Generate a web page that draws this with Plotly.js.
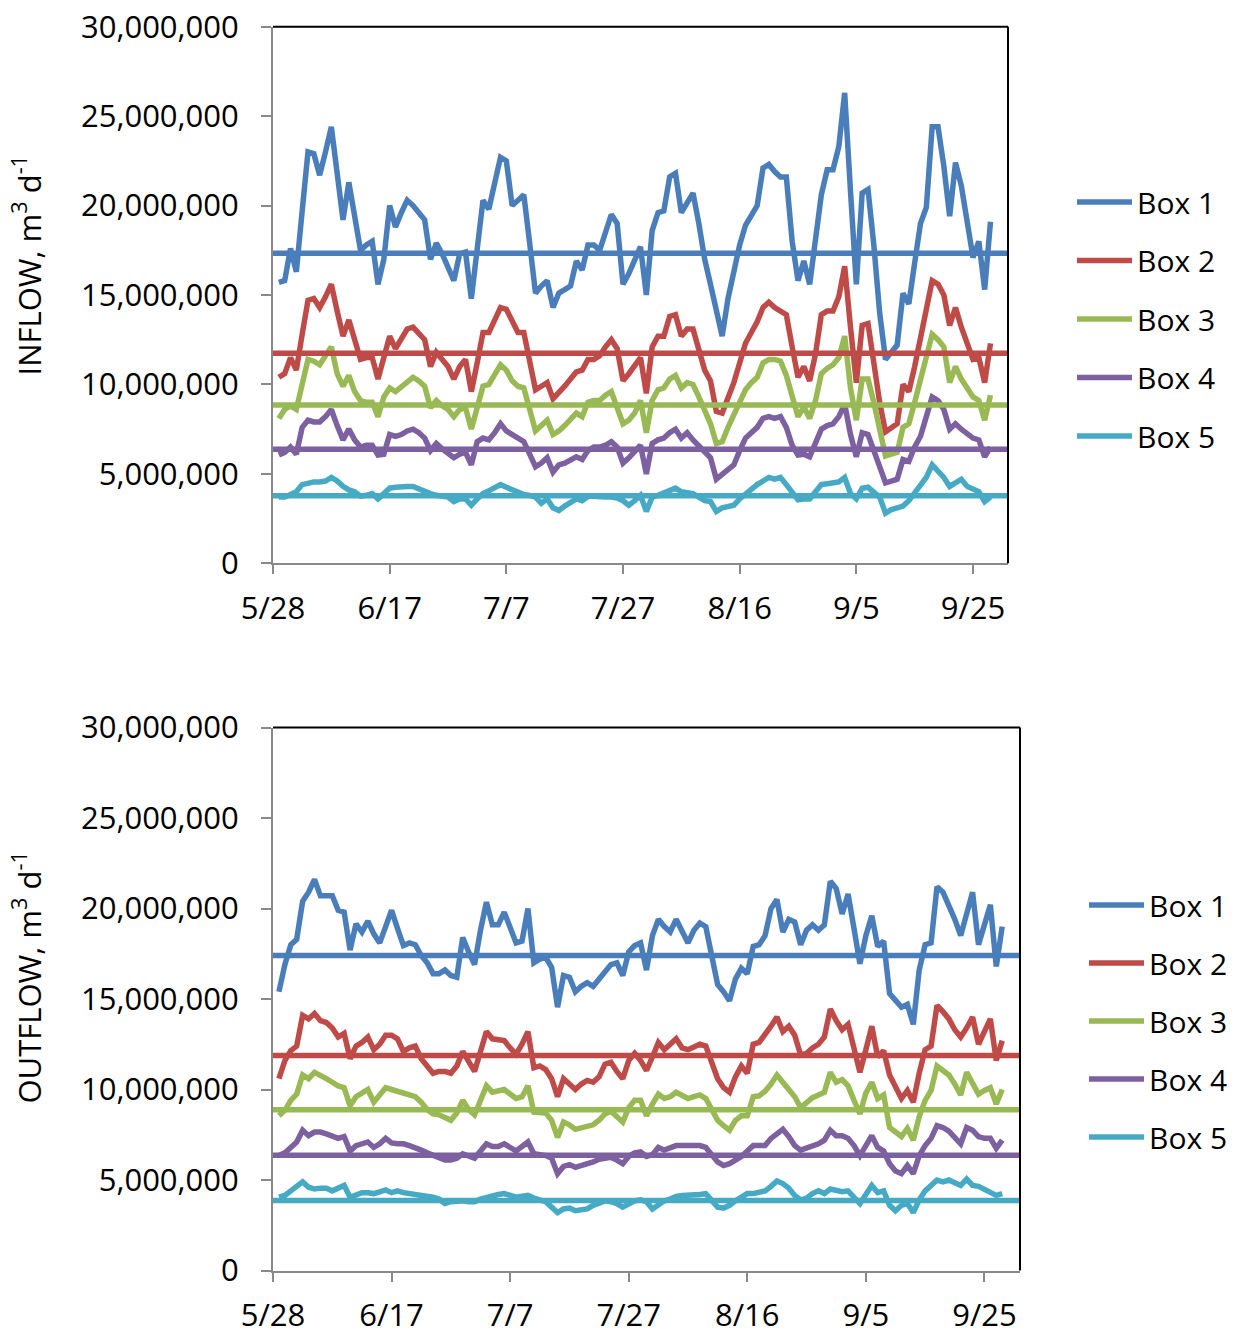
<!DOCTYPE html>
<html><head><meta charset="utf-8">
<script src="https://cdn.plot.ly/plotly-3.0.1.min.js"></script>
<style>html,body{margin:0;padding:0;background:#fff}</style>
</head><body><div id="chart" style="width:1236px;height:1334px"></div>
<script>
const seriesNames = ['Box 1','Box 2','Box 3','Box 4','Box 5'];
const colors = ['#4A7EBB','#BE4B48','#98B954','#7D60A0','#46AAC5'];
const firstDay = [2011, 4, 29];     // 5/29, daily values
const UNIT = 1e6;                   // values below are in millions of m3/d
const yTitles = ['INFLOW, m<sup>3</sup> d<sup>-1</sup>', 'OUTFLOW, m<sup>3</sup> d<sup>-1</sup>'];

const inflowBox1 = [15.7,15.8,17.6,16.3,19.7,23.0,22.9,21.7,23.0,24.4,
 21.8,19.2,21.3,19.4,17.5,17.8,18.0,15.6,17.0,20.0,
 18.8,19.6,20.3,20.0,19.6,19.2,17.0,17.9,17.3,16.6,
 15.8,17.3,17.4,14.8,17.6,20.3,19.8,21.2,22.7,22.5,
 20.0,20.3,20.6,17.9,15.1,15.5,15.8,14.3,15.1,15.3,
 15.5,16.9,16.4,17.8,17.8,17.5,18.5,19.5,19.0,15.6,
 16.2,16.9,17.7,15.0,18.6,19.6,19.7,21.6,21.8,19.6,
 20.1,20.7,19.0,17.0,15.6,14.0,12.7,14.8,16.4,17.8,
 18.9,19.4,20.0,22.1,22.3,21.9,21.6,21.6,18.0,15.8,
 16.9,15.6,18.2,20.6,22.0,22.0,23.3,26.3,20.8,15.6,
 20.7,20.9,17.8,14.0,11.4,11.8,12.2,15.1,14.5,16.8,
 19.0,19.9,24.4,24.4,22.2,19.4,22.4,21.1,19.1,17.1,
 18.0,15.3,19.1];
const inflowBox2 = [10.4,10.6,11.5,10.8,12.8,14.7,14.8,14.3,14.9,15.6,
 14.1,12.7,13.6,12.5,11.4,11.5,11.5,10.3,11.5,12.7,
 12.0,12.6,13.1,13.2,12.8,12.5,11.0,11.8,11.4,11.0,
 10.3,11.0,11.4,9.6,11.2,12.9,12.9,13.6,14.3,14.2,
 13.5,12.9,12.9,11.3,9.7,9.9,10.1,9.2,9.5,9.9,
 10.3,10.7,10.8,11.4,11.4,11.6,12.1,12.5,12.0,10.2,
 10.6,11.0,11.5,9.5,12.1,12.7,12.7,13.8,13.9,12.7,
 13.1,13.1,11.8,10.8,10.2,8.5,8.4,9.2,10.1,11.2,
 12.3,12.9,13.5,14.3,14.6,14.3,14.1,13.9,12.1,10.4,
 11.0,10.2,11.7,13.9,14.1,14.1,14.9,16.6,13.2,10.1,
 13.3,13.4,11.2,9.0,7.35,7.6,7.8,10.0,9.6,11.0,
 12.6,14.2,15.8,15.6,15.0,13.3,14.3,13.2,12.3,11.4,
 11.5,10.1,12.3];
const inflowBox3 = [8.1,8.6,8.8,8.6,10.0,11.4,11.3,11.1,11.6,12.1,
 10.6,9.9,10.5,9.6,9.1,9.0,9.0,8.2,9.3,9.8,
 9.6,9.9,10.2,10.4,10.2,9.9,8.7,9.1,8.8,8.6,
 8.2,8.6,8.7,7.5,8.7,9.9,10.0,10.5,11.1,10.8,
 10.2,9.9,9.8,8.6,7.4,7.7,8.0,7.2,7.4,7.7,
 8.1,8.4,8.2,9.0,9.1,9.1,9.4,9.6,8.7,7.8,
 8.0,8.4,9.1,7.3,9.1,9.7,9.8,10.3,10.5,9.8,
 10.1,10.0,9.3,8.5,7.8,6.7,6.8,7.6,8.3,9.0,
 9.7,10.1,10.4,11.2,11.4,11.4,11.3,10.5,9.3,8.2,
 8.75,8.1,9.1,10.6,10.9,11.1,11.5,12.7,9.8,8.0,
 10.3,10.3,9.0,7.4,6.0,6.1,6.2,7.6,7.8,9.0,
 10.2,11.5,12.8,12.5,12.1,10.1,11.0,10.3,9.8,9.3,
 9.1,8.0,9.4];
const inflowBox4 = [6.05,6.2,6.5,6.1,7.6,8.0,7.9,7.9,8.2,8.6,
 7.7,6.9,7.5,6.9,6.5,6.6,6.6,6.05,6.1,7.2,
 7.1,7.2,7.4,7.5,7.3,7.0,6.3,6.7,6.4,6.1,
 5.9,6.1,6.2,5.5,6.8,7.0,6.9,7.3,7.8,7.4,
 7.2,7.0,6.8,6.1,5.4,5.6,5.9,5.1,5.5,5.6,
 5.8,5.95,5.8,6.3,6.5,6.5,6.6,6.8,6.5,5.6,
 5.9,6.3,6.6,5.0,6.7,6.9,7.0,7.3,7.5,7.0,
 7.3,6.9,6.6,6.2,5.9,4.7,5.0,5.2,5.5,6.3,
 7.0,7.3,7.6,8.1,8.2,8.1,8.2,7.6,6.6,6.05,
 6.1,5.95,6.7,7.5,7.7,7.8,8.2,8.9,7.2,5.95,
 7.3,7.2,6.3,5.3,4.5,4.6,4.7,5.8,5.7,6.5,
 7.1,8.2,9.3,9.1,8.6,7.5,7.8,7.5,7.2,7.0,
 6.9,5.95,6.5];
const inflowBox5 = [3.7,3.7,3.85,4.0,4.4,4.5,4.55,4.55,4.6,4.8,
 4.6,4.3,4.1,4.0,3.75,3.8,3.9,3.6,3.9,4.2,
 4.25,4.3,4.3,4.3,4.15,4.0,3.9,3.8,3.75,3.7,
 3.45,3.6,3.6,3.25,3.6,3.9,4.05,4.2,4.4,4.25,
 4.1,3.95,3.85,3.8,3.7,3.35,3.6,3.1,2.95,3.2,
 3.4,3.6,3.5,3.75,3.75,3.7,3.7,3.7,3.65,3.5,
 3.25,3.5,3.8,2.9,3.7,3.8,3.95,4.1,4.2,4.0,
 3.95,3.9,3.7,3.5,3.45,2.9,3.1,3.2,3.25,3.6,
 3.9,4.15,4.4,4.6,4.8,4.7,4.8,4.4,4.0,3.55,
 3.6,3.6,4.0,4.4,4.45,4.5,4.55,4.8,3.9,3.6,
 4.2,4.25,4.0,3.7,2.8,3.0,3.1,3.2,3.5,3.9,
 4.3,4.8,5.5,5.2,4.8,4.3,4.5,4.7,4.3,4.15,
 4.0,3.45,3.7];

const outflowBox1 = [15.4,16.9,18.0,18.3,20.4,20.9,21.6,20.7,20.7,20.7,
 19.9,19.8,17.7,19.15,18.7,19.3,18.6,18.1,19.0,19.9,
 18.9,17.95,18.1,18.0,17.4,17.0,16.4,16.4,16.6,16.3,
 16.2,18.4,17.6,16.9,18.8,20.35,19.1,19.1,19.8,19.0,
 18.1,18.2,20.0,17.0,17.2,17.3,16.75,14.55,16.3,16.2,
 15.4,15.7,15.9,15.7,16.1,16.6,16.9,17.0,16.3,17.6,
 17.95,18.1,16.6,18.5,19.4,19.0,18.7,19.4,18.8,18.1,
 18.8,19.2,19.0,17.2,15.8,15.4,14.9,16.1,16.7,16.4,
 17.9,18.0,18.5,20.0,20.5,18.7,19.4,19.25,18.0,18.8,
 19.1,18.8,19.1,21.5,21.1,19.7,20.8,18.9,16.95,18.5,
 19.6,17.9,18.2,15.3,14.9,14.55,14.7,13.6,16.6,18.0,
 18.1,21.2,20.9,20.2,19.4,18.5,19.7,20.9,18.0,19.1,
 20.2,16.8,19.0];
const outflowBox2 = [10.6,11.6,12.15,12.4,14.1,13.9,14.2,13.8,13.7,13.4,
 12.9,13.1,11.7,12.4,12.6,12.9,12.2,12.5,13.0,13.0,
 12.8,12.1,12.3,12.4,11.7,11.3,10.9,11.0,11.0,10.9,
 11.3,12.1,11.5,11.0,12.1,13.2,12.8,12.75,12.7,12.3,
 11.95,12.5,13.2,11.2,11.3,11.1,10.6,9.6,10.6,10.3,
 10.0,10.3,10.5,10.4,10.7,11.4,11.5,11.0,10.6,11.6,
 12.0,11.6,11.05,11.8,12.6,12.2,12.5,12.8,12.3,12.2,
 12.35,12.5,12.4,11.5,10.6,10.1,9.85,10.7,11.3,10.9,
 12.5,12.6,13.0,13.5,14.0,13.2,13.5,13.0,11.9,12.0,
 12.3,12.5,12.9,14.45,13.8,13.3,13.6,12.4,10.95,12.2,
 13.5,11.8,12.15,10.8,10.2,9.5,9.95,9.3,10.9,12.2,
 12.4,14.65,14.3,13.9,13.3,12.9,13.4,14.0,12.5,13.2,
 13.9,11.6,12.7];
const outflowBox3 = [8.55,8.85,9.4,9.75,10.8,10.6,10.95,10.8,10.6,10.4,
 10.2,10.1,9.1,9.6,9.8,10.0,9.3,9.7,10.1,10.0,
 9.9,9.75,9.65,9.6,9.3,8.9,8.65,8.6,8.45,8.3,
 8.7,9.4,8.9,8.6,9.4,10.2,9.85,9.9,10.0,9.75,
 9.5,9.6,10.2,8.75,8.75,8.7,8.3,7.35,8.2,8.05,
 7.8,7.9,8.0,8.05,8.3,8.65,8.8,8.5,8.2,9.0,
 9.4,9.4,8.55,9.2,9.75,9.5,9.6,9.85,9.65,9.5,
 9.6,9.7,9.5,8.9,8.3,8.0,7.75,8.3,8.55,8.55,
 9.6,9.65,9.9,10.3,10.8,10.4,10.05,9.6,9.0,9.3,
 9.55,9.7,9.85,10.95,10.4,10.55,10.2,9.4,8.65,9.8,
 10.4,9.5,9.7,7.9,7.6,7.4,7.85,7.2,8.5,9.4,
 9.95,11.3,11.05,10.8,10.3,9.7,10.95,10.4,9.75,9.95,
 10.1,9.2,10.0];
const outflowBox4 = [6.35,6.5,6.8,7.1,7.75,7.45,7.65,7.65,7.55,7.4,
 7.3,7.4,6.6,6.9,7.0,7.1,6.8,7.0,7.3,7.05,
 7.0,7.0,6.9,6.8,6.65,6.5,6.35,6.2,6.1,6.1,
 6.2,6.45,6.3,6.2,6.6,7.0,6.85,6.85,7.0,6.8,
 6.6,6.85,7.1,6.45,6.4,6.35,6.2,5.35,5.75,5.85,
 5.7,5.8,5.85,6.0,6.15,6.2,6.25,6.1,5.9,6.3,
 6.5,6.55,6.3,6.4,6.8,6.65,6.75,6.9,6.9,6.9,
 6.9,6.9,6.8,6.4,6.0,5.8,5.9,6.1,6.3,6.6,
 6.9,6.9,6.9,7.3,7.6,7.8,7.4,6.9,6.65,6.75,
 6.9,7.0,7.2,7.75,7.45,7.45,7.3,6.9,6.35,6.9,
 7.45,6.8,6.6,5.9,5.5,5.35,5.8,5.35,6.35,6.9,
 7.3,8.0,7.9,7.7,7.3,7.0,7.9,7.75,7.4,7.3,
 7.3,6.75,7.2];
const outflowBox5 = [4.05,4.15,4.4,4.65,4.9,4.6,4.5,4.55,4.55,4.4,
 4.55,4.7,4.05,4.2,4.3,4.3,4.25,4.35,4.45,4.3,
 4.4,4.3,4.25,4.25,4.2,4.1,4.05,3.95,3.7,3.8,
 3.85,3.85,3.8,3.8,3.95,4.05,4.1,4.2,4.25,4.15,
 4.05,4.1,4.15,4.0,3.9,3.8,3.5,3.2,3.4,3.45,
 3.3,3.35,3.4,3.6,3.75,3.85,3.8,3.7,3.5,3.7,
 3.85,3.9,3.8,3.4,3.65,3.85,3.95,4.1,4.15,4.15,
 4.15,4.2,4.25,3.9,3.5,3.45,3.6,3.85,4.05,4.25,
 4.25,4.3,4.4,4.65,4.95,4.8,4.55,4.15,3.9,4.0,
 4.25,4.4,4.25,4.5,4.4,4.35,4.4,4.05,3.7,4.2,
 4.7,4.3,4.4,3.6,3.3,3.6,3.7,3.2,3.9,4.4,
 4.7,5.0,4.9,5.0,4.85,4.7,5.05,4.7,4.65,4.5,
 4.3,4.15,4.25];

const inflowMeans  = [17.33, 11.74, 8.85, 6.37, 3.78];
const outflowMeans = [17.40, 11.88, 8.88, 6.37, 3.87];

const inflow  = [inflowBox1, inflowBox2, inflowBox3, inflowBox4, inflowBox5];
const outflow = [outflowBox1, outflowBox2, outflowBox3, outflowBox4, outflowBox5];

function dayList(n) {
  const out = [];
  for (let i = 0; i < n; i++) {
    const d = new Date(Date.UTC(firstDay[0], firstDay[1], firstDay[2] + i));
    out.push(d.toISOString().slice(0, 10));
  }
  return out;
}

const FONT = 'Open Sans, Lato, sans-serif';
const traces = [];
[[inflow, 'x', 'y', 'legend', 'in'], [outflow, 'x2', 'y2', 'legend2', 'out']].forEach(([set, xa, ya, lg, grp]) => {
  set.forEach((vals, i) => {
    traces.push({
      type: 'scatter', mode: 'lines',
      x: dayList(vals.length), y: vals.map(v => v * UNIT),
      xaxis: xa, yaxis: ya, legend: lg, legendgroup: grp + i,
      name: seriesNames[i],
      line: {color: colors[i], width: 5.5},
      hoverinfo: 'skip'
    });
  });
});

const tickFont = {family: FONT, size: 31, color: '#000'};
const gray = '#898989';
function xAxis(domain, anchor) {
  return {domain, anchor, type: 'date', range: ['2011-05-28', '2011-10-01'],
    tick0: '2011-05-28', dtick: 20 * 86400000, tickformat: '%-m/%-d',
    showline: true, linecolor: gray, linewidth: 2, ticks: 'outside', ticklen: 9,
    tickwidth: 2, tickcolor: gray, showgrid: false, zeroline: false,
    tickfont: tickFont, ticklabelstandoff: 7, fixedrange: true};
}
function yAxis(domain, anchor) {
  return {domain, anchor, range: [0, 30e6], tick0: 0, dtick: 5e6, tickformat: ',',
    showline: true, linecolor: gray, linewidth: 2, ticks: 'outside', ticklen: 10,
    tickwidth: 2, tickcolor: gray, showgrid: false, zeroline: false,
    tickfont: tickFont, ticklabelstandoff: 16, fixedrange: true};
}

const shapes = [];
[[inflowMeans, 'x', 'y'], [outflowMeans, 'x2', 'y2']].forEach(([means, xa, ya]) => {
  means.forEach((m, i) => {
    shapes.push({type: 'line', xref: xa + ' domain', x0: 0, x1: 1, yref: ya, y0: m * UNIT, y1: m * UNIT,
      line: {color: colors[i], width: 5.5}});
  });
  shapes.push({type: 'line', xref: xa + ' domain', x0: 0, x1: 1, yref: ya + ' domain', y0: 1, y1: 1, line: {color: '#000', width: 2}});
  shapes.push({type: 'line', xref: xa + ' domain', x0: 1, x1: 1, yref: ya + ' domain', y0: 0, y1: 1, line: {color: '#000', width: 2}});
});

const titleFont = {family: FONT, size: 31, color: '#000'};
const annotations = [
  {text: yTitles[0], xref: 'paper', yref: 'paper', x: 27 / 1236, y: 1 - 265.5 / 1334,
   xanchor: 'center', yanchor: 'middle', textangle: -90, showarrow: false, font: titleFont},
  {text: yTitles[1], xref: 'paper', yref: 'paper', x: 27 / 1236, y: 1 - 977.5 / 1334,
   xanchor: 'center', yanchor: 'middle', textangle: -90, showarrow: false, font: titleFont}
];

const legendFont = {family: FONT, size: 30, color: '#000'};
const layout = {
  width: 1236, height: 1334, autosize: false,
  margin: {l: 0, r: 0, t: 0, b: 0},
  paper_bgcolor: '#fff', plot_bgcolor: '#fff',
  showlegend: true, hovermode: false,
  xaxis: xAxis([273 / 1236, 1008 / 1236], 'y'),
  yaxis: yAxis([1 - 563.3 / 1334, 1 - 26.7 / 1334], 'x'),
  xaxis2: xAxis([273 / 1236, 1020 / 1236], 'y2'),
  yaxis2: yAxis([1 - 1270.5 / 1334, 1 - 727.5 / 1334], 'x2'),
  legend: {x: 1072 / 1236, xanchor: 'left', y: 1 - 319 / 1334, yanchor: 'middle',
    font: legendFont, tracegroupgap: 16.5, itemwidth: 55, bgcolor: 'rgba(0,0,0,0)'},
  legend2: {x: 1084 / 1236, xanchor: 'left', y: 1 - 1021 / 1334, yanchor: 'middle',
    font: legendFont, tracegroupgap: 16, itemwidth: 55, bgcolor: 'rgba(0,0,0,0)'},
  shapes, annotations
};

Plotly.newPlot('chart', traces, layout, {displayModeBar: false, staticPlot: true});
</script>
</body></html>
